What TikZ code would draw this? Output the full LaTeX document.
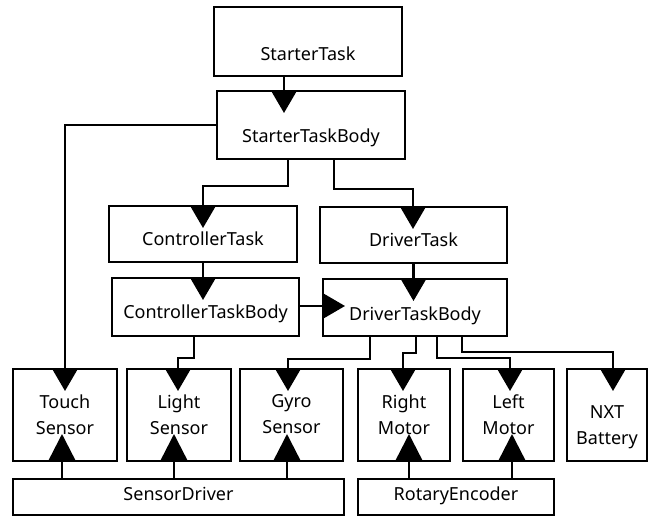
\documentclass[tikz,border=0pt]{standalone}
\usepackage{fontspec}
\setmainfont{Noto Sans}
\usetikzlibrary{arrows.meta,calc}
\begin{document}
\begin{tikzpicture}[x=1pt,y=-1pt,
  blk/.style 2 args={draw, line width=1.5pt, minimum width=#1, minimum height=#2,
    inner sep=0pt, outer sep=0pt},
  txt/.style={font=\fontsize{18}{26}\selectfont, inner sep=0pt, align=center},
  wire/.style={line width=2.4pt},
  arr/.style={wire, -{Triangle[width=25pt,length=22pt]}},
  uparr/.style={wire, -{Triangle[width=26pt,length=26pt]}}]
\useasboundingbox (0,0) rectangle (649,516);

% task boxes
\node[blk={188}{69}] (st)  at (308,41.5) {};
\node[txt, anchor=base] (stl) at (308,61) {StarterTask};
\node[blk={188}{68}] (stb) at (311,125) {};
\node[txt, anchor=base] (stbl) at (311,143) {StarterTaskBody};
\node[blk={188}{56}] (ct)  at (203,234) {};
\node[txt, anchor=base] (ctl) at (203,246) {ControllerTask};
\node[blk={187}{56}] (dt)  at (413.5,235) {};
\node[txt, anchor=base] (dtl) at (413.5,246.5) {DriverTask};
\node[blk={187}{58}] (ctb) at (205.5,307) {};
\node[txt, anchor=base] (ctbl) at (205.5,319) {ControllerTaskBody};
\node[blk={184}{57}] (dtb) at (415,307.5) {};
\node[txt, anchor=base] (dtbl) at (415,320) {DriverTaskBody};

% device boxes
\node[blk={104}{92}] (touch) at (65,415) {};
\node[txt] (touchl) at (65,414.5) {Touch\\Sensor};
\node[blk={104}{92}] (light) at (179,415) {};
\node[txt] (lightl) at (179,414.5) {Light\\Sensor};
\node[blk={103}{92}] (gyro) at (291.5,415) {};
\node[txt] (gyrol) at (291.5,414.5) {Gyro\\Sensor};
\node[blk={92}{92}] (right) at (404,415) {};
\node[txt] (rightl) at (404,414.5) {Right\\Motor};
\node[blk={91}{92}] (left) at (508.5,415) {};
\node[txt] (leftl) at (508.5,414.5) {Left\\Motor};
\node[blk={80}{92}] (nxt) at (607,415) {};
\node[txt] (nxtl) at (607,427.5) {NXT\\Battery};

% driver layer
\node[blk={331}{36}] (sd) at (178.5,497) {};
\node[txt, anchor=base] (sdl) at (178.5,500) {SensorDriver};
\node[blk={196}{36}] (re) at (456,497) {};
\node[txt, anchor=base] (rel) at (456,500) {RotaryEncoder};

% connectors
\draw[arr] ($(st.south)+(-24,0)$) -- ($(stb.north)+(-27,22)$);
\draw[arr] (stb.west) -| ($(touch.north)+(0,22)$);
\draw[arr] ($(stb.south)+(-23,0)$) -- ++(0,27) -| ($(ct.north)+(0,22)$);
\draw[arr] ($(stb.south)+(23,0)$) -- ++(0,30) -| ($(dt.north)+(-0.5,22)$);
\draw[arr] (ct.south) -- ($(ctb.north)+(-2.5,22)$);
\draw[arr] (dt.south) -- ($(dtb.north)+(-1.5,22)$);
\draw[arr] ($(ctb.east)+(0,-1)$) -- ($(dtb.west)+(22,-1.5)$);
\draw[arr] ($(ctb.south)+(-11.5,0)$) -- ++(0,22) -| ($(light.north)+(-1,22)$);
\draw[arr] ($(dtb.south)+(-45,0)$) -- ++(0,23) -| ($(gyro.north)+(-3.5,22)$);
\draw[arr] ($(dtb.south)+(1,0)$) -- ++(0,17) -| ($(right.north)+(-1,22)$);
\draw[arr] ($(dtb.south)+(22,0)$) -- ++(0,22) -| ($(left.north)+(1.5,22)$);
\draw[arr] ($(dtb.south)+(47,0)$) -- ++(0,16) -| ($(nxt.north)+(6,22)$);

\draw[uparr] ($(sd.north)+(-116.5,0)$) -- ($(touch.south)+(-3,-27)$);
\draw[uparr] ($(sd.north)+(-4.5,0)$) -- ($(light.south)+(-5,-27)$);
\draw[uparr] ($(sd.north)+(108.5,0)$) -- ($(gyro.south)+(-4.5,-27)$);
\draw[uparr] ($(re.north)+(-47,0)$) -- ($(right.south)+(5,-27)$);
\draw[uparr] ($(re.north)+(56,0)$) -- ($(left.south)+(3.5,-27)$);
\end{tikzpicture}
\end{document}
